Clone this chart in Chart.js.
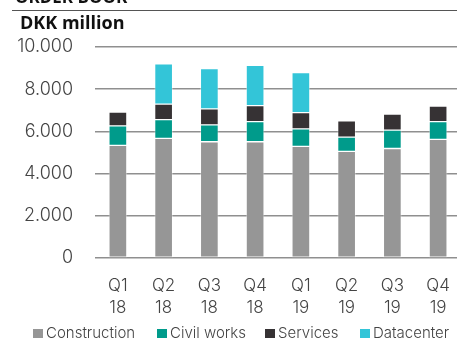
<!DOCTYPE html>
<html>
<head>
<meta charset="utf-8">
<script src="https://cdn.jsdelivr.net/npm/chart.js@4"></script>
<style>
    html, body { margin: 0; padding: 0; overflow: hidden; background: #fff; }
    #wrap { width: 470px; height: 344px; position: relative; }
</style>
</head>
<body>
<div id="wrap"><canvas id="myChart"></canvas></div>
<script>
var kvartaler = [['Q1', '18'], ['Q2', '18'], ['Q3', '18'], ['Q4', '18'], ['Q1', '19'], ['Q2', '19'], ['Q3', '19'], ['Q4', '19']];
var construction = [5340, 5670, 5510, 5510, 5290, 5050, 5190, 5620];
var civilWorks = [920, 890, 800, 950, 830, 680, 870, 840];
var services = [660, 730, 760, 760, 770, 770, 760, 740];
var datacenter = [null, 1910, 1910, 1910, 1900, null, null, null];
var yTicks = [0, 2000, 4000, 6000, 8000, 10000];

var fontNavn = '"Open Sans", "DejaVu Sans", sans-serif';
var tyndFont = 'Inter, "Open Sans", sans-serif';

// titel, overskrift og forklaring tegnes direkte paa canvas
var tekstPlugin = {
    id: 'tekst',
    afterDraw: function (chart) {
        var c = chart.ctx;
        c.save();
        c.fillStyle = '#111';
        c.font = 'bold 17px ' + fontNavn;
        c.textBaseline = 'alphabetic';
        c.fillText('ORDER BOOK', 15, 3);

        c.strokeStyle = '#555';
        c.lineWidth = 1;
        c.beginPath();
        c.moveTo(12, 10.5);
        c.lineTo(470, 10.5);
        c.stroke();

        c.font = 'bold 18px ' + fontNavn;
        c.fillText('DKK million', 20, 29);

        // forklaring, kasserne sat med faste x
        var kasseX = [33, 157, 265, 360];
        c.font = '300 15px ' + tyndFont;
        chart.data.datasets.forEach(function (ds, i) {
            c.fillStyle = ds.backgroundColor;
            c.fillRect(kasseX[i], 329, 10, 9);
            c.fillStyle = '#444';
            c.fillText(ds.label, kasseX[i] + 13, 338);
        });
        c.restore();
    }
};

var ctx = document.getElementById('myChart').getContext('2d');
var myChart = new Chart(ctx, {
    type: 'bar',
    data: {
        labels: kvartaler,
        datasets: [
            { label: 'Construction', data: construction, backgroundColor: '#969696' },
            { label: 'Civil works', data: civilWorks, backgroundColor: '#009b8b' },
            { label: 'Services', data: services, backgroundColor: '#363234' },
            { label: 'Datacenter', data: datacenter, backgroundColor: '#33c5d8' }
        ]
    },
    options: {
        responsive: true,
        maintainAspectRatio: false,
        animation: false,
        layout: {
            padding: { top: 47, right: 9, bottom: 26, left: 0 }
        },
        datasets: {
            bar: {
                barThickness: 18,
                borderWidth: 1,
                borderColor: 'rgba(255,255,255,0.35)',
                borderSkipped: false
            }
        },
        plugins: {
            legend: { display: false },
            tooltip: { enabled: false }
        },
        scales: {
            x: {
                stacked: true,
                border: { display: false },
                grid: { display: false, drawTicks: false },
                ticks: {
                    color: '#444',
                    padding: 17,
                    maxRotation: 0,
                    font: { family: tyndFont, size: 17, weight: 300, lineHeight: 1.3 }
                },
                afterFit: function (scale) { scale.height = 60; }
            },
            y: {
                stacked: true,
                min: 0,
                max: 10000,
                border: { display: false },
                grid: { color: '#8f8f8f', lineWidth: 1.5, drawTicks: false },
                afterBuildTicks: function (scale) {
                    scale.ticks = yTicks.map(function (v) { return { value: v }; });
                },
                ticks: {
                    color: '#444',
                    padding: 22,
                    font: { family: tyndFont, size: 18, weight: 300 },
                    callback: function (v) {
                        return v.toLocaleString('da-DK');
                    }
                },
                afterFit: function (scale) { scale.width = 95; }
            }
        }
    },
    plugins: [tekstPlugin]
});
</script>
</body>
</html>
